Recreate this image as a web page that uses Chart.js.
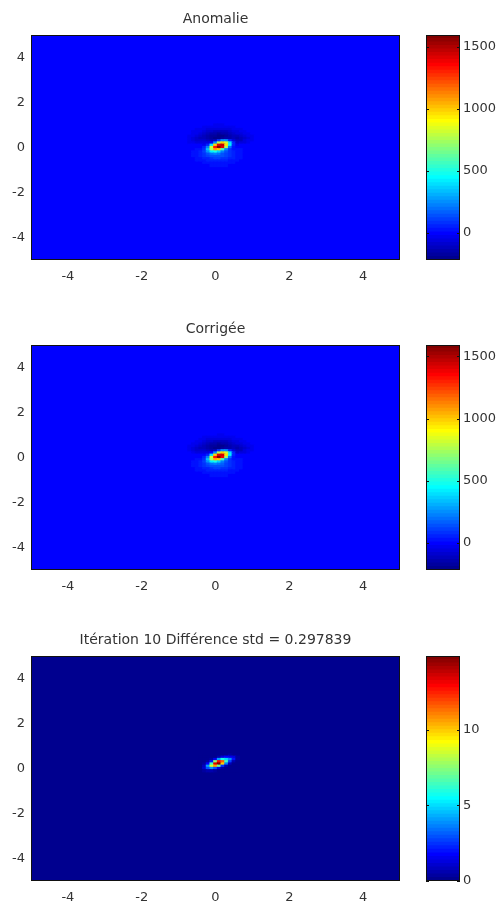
<!DOCTYPE html>
<html>
<head>
<meta charset="utf-8">
<script src="https://cdn.jsdelivr.net/npm/chart.js@4.4.1/dist/chart.umd.min.js"></script>
<style>
body { margin: 0; background: #fff; width: 503px; height: 907px; position: relative; overflow: hidden; }
.box { position: absolute; }
</style>
</head>
<body>
<div class="box" style="left:0;top:0;width:410px;height:295px"><canvas id="map1"></canvas></div>
<div class="box" style="left:426px;top:0;width:77px;height:295px"><canvas id="cb1"></canvas></div>
<div class="box" style="left:0;top:310px;width:410px;height:295px"><canvas id="map2"></canvas></div>
<div class="box" style="left:426px;top:310px;width:77px;height:295px"><canvas id="cb2"></canvas></div>
<div class="box" style="left:0;top:621px;width:410px;height:295px"><canvas id="map3"></canvas></div>
<div class="box" style="left:426px;top:621px;width:77px;height:295px"><canvas id="cb3"></canvas></div>
<script>
const titles = ['Anomalie', 'Corrigée', 'Itération 10 Différence std = 0.297839'];
const xTicks = [-4, -2, 0, 2, 4];
const yTicks = [4, 2, 0, -2, -4];
const cbTicks12 = [0, 500, 1000, 1500];
const cbTicks3 = [0, 5, 10];

// grid around the anomaly (step 0.1), the field is 0 everywhere else
const gridX = [-0.7, -0.6, -0.5, -0.4, -0.3, -0.2, -0.1, 0, 0.1, 0.2, 0.3, 0.4, 0.5, 0.6, 0.7, 0.8, 0.9, 1.0, 1.1];
const gridY = [1.1, 1.0, 0.9, 0.8, 0.7, 0.6, 0.5, 0.4, 0.3, 0.2, 0.1, 0, -0.1, -0.2, -0.3, -0.4, -0.5, -0.6, -0.7, -0.8];

const anomalie = [
  [-1, -2, -2, -4, -5, -6, -8, -9, -9, -9, -8, -7, -6, -4, -3, -2, -1, -1, 0],
  [-2, -3, -6, -8, -11, -15, -18, -20, -21, -21, -19, -16, -13, -9, -7, -4, -3, -1, -1],
  [-4, -7, -11, -16, -23, -29, -36, -40, -42, -41, -38, -32, -25, -19, -13, -8, -5, -3, -2],
  [-7, -13, -20, -30, -41, -53, -64, -72, -76, -74, -68, -58, -46, -34, -24, -15, -9, -5, -3],
  [-11, -20, -31, -46, -64, -82, -99, -112, -117, -115, -105, -90, -71, -53, -37, -24, -14, -8, -4],
  [-16, -27, -43, -64, -88, -114, -138, -155, -163, -159, -146, -124, -99, -73, -70, -48, -30, -16, -6],
  [-28, -48, -75, -100, -107, -138, -167, -187, -197, -193, -176, -150, -120, -125, -95, -65, -40, -22, -10],
  [-35, -55, -85, -110, -114, -147, -178, -205, -218, -183, -159, -139, -119, -140, -115, -85, -55, -30, -15],
  [-32, -55, -80, -100, -100, -130, -150, -120, 80, 260, 240, 60, -70, -120, -105, -75, -48, -26, -12],
  [-20, -35, -55, -75, -64, -70, -20, 250, 760, 980, 820, 380, 40, -80, -70, -50, -30, -15, -5],
  [-6, -9, -14, -19, -20, 40, 380, 980, 1420, 1460, 960, 420, 60, -20, -18, -12, -7, -5, -2],
  [-1, 0, 2, 5, 40, 230, 820, 1330, 1594, 1400, 720, 200, 30, 0, -2, -3, -2, -1, -1],
  [2, 6, 13, 28, 90, 330, 760, 1060, 980, 560, 220, 80, 31, 18, 9, 4, 1, 0, 0],
  [5, 10, 20, 42, 100, 240, 420, 480, 370, 230, 130, 80, 50, 29, 15, 8, 3, 1, 0],
  [5, 12, 23, 42, 82, 140, 200, 215, 190, 150, 115, 85, 56, 33, 18, 8, 4, 1, 0],
  [5, 10, 21, 38, 66, 97, 125, 138, 138, 125, 103, 76, 51, 30, 16, 8, 3, 1, 0],
  [3, 8, 15, 28, 44, 64, 83, 96, 99, 91, 76, 56, 37, 22, 12, 6, 2, 1, 0],
  [2, 5, 9, 16, 27, 38, 50, 57, 59, 55, 45, 34, 22, 13, 7, 3, 1, 1, 0],
  [1, 2, 4, 8, 13, 19, 24, 28, 29, 27, 22, 16, 11, 6, 3, 2, 1, 0, 0],
  [0, 1, 2, 3, 5, 7, 10, 11, 11, 11, 9, 6, 4, 3, 1, 1, 0, 0, 0]
];

const corrigee = [
  [-1, -2, -2, -4, -5, -6, -8, -9, -9, -9, -8, -7, -6, -4, -3, -2, -1, -1, 0],
  [-2, -3, -6, -8, -11, -15, -18, -20, -21, -21, -19, -16, -13, -9, -7, -4, -3, -1, -1],
  [-4, -7, -11, -16, -23, -29, -36, -40, -42, -41, -38, -32, -25, -19, -13, -8, -5, -3, -2],
  [-7, -13, -20, -30, -41, -53, -64, -72, -76, -74, -68, -58, -46, -34, -24, -15, -9, -5, -3],
  [-11, -20, -31, -46, -64, -82, -99, -112, -117, -115, -105, -90, -71, -53, -37, -24, -14, -8, -4],
  [-16, -27, -43, -64, -88, -114, -138, -155, -163, -159, -146, -124, -99, -73, -70, -48, -30, -16, -6],
  [-28, -48, -75, -100, -107, -138, -167, -187, -197, -193, -176, -150, -120, -125, -95, -65, -40, -22, -10],
  [-35, -55, -85, -110, -114, -147, -178, -205, -218, -183, -159, -139, -119, -140, -115, -85, -55, -30, -15],
  [-32, -55, -80, -100, -100, -130, -150, -120, 78, 255, 236, 59, -70, -120, -105, -75, -48, -26, -12],
  [-20, -35, -55, -75, -64, -70, -20, 248, 752, 970, 812, 376, 40, -80, -70, -50, -30, -15, -5],
  [-6, -9, -14, -19, -20, 40, 377, 974, 1408, 1448, 952, 416, 60, -20, -18, -12, -7, -5, -2],
  [-1, 0, 2, 5, 40, 229, 814, 1319, 1591, 1388, 714, 199, 30, 0, -2, -3, -2, -1, -1],
  [2, 6, 13, 28, 90, 328, 754, 1051, 972, 556, 219, 80, 31, 18, 9, 4, 1, 0, 0],
  [5, 10, 20, 42, 100, 239, 417, 476, 367, 229, 130, 80, 50, 29, 15, 8, 3, 1, 0],
  [5, 12, 23, 42, 82, 141, 201, 219, 192, 151, 115, 85, 56, 33, 18, 8, 4, 1, 0],
  [5, 10, 21, 38, 66, 97, 126, 140, 140, 126, 103, 76, 51, 30, 16, 8, 3, 1, 0],
  [3, 8, 15, 28, 44, 64, 83, 96, 99, 91, 76, 56, 37, 22, 12, 6, 2, 1, 0],
  [2, 5, 9, 16, 27, 38, 50, 57, 59, 55, 45, 34, 22, 13, 7, 3, 1, 1, 0],
  [1, 2, 4, 8, 13, 19, 24, 28, 29, 27, 22, 16, 11, 6, 3, 2, 1, 0, 0],
  [0, 1, 2, 3, 5, 7, 10, 11, 11, 11, 9, 6, 4, 3, 1, 1, 0, 0, 0]
];

const diffX = [-0.4, -0.3, -0.2, -0.1, 0, 0.1, 0.2, 0.3, 0.4, 0.5, 0.6];
const diffY = [0.6, 0.5, 0.4, 0.3, 0.2, 0.1, 0, -0.1];
const difference = [
  [0, 0, 0, 0, 0, 0, 0, 0.2, 0.3, 0.1, 0],
  [0, 0, 0, 0, 0.2, 0.6, 1.2, 1.8, 1.6, 1.2, 0.3],
  [0, 0, 0, 0.3, 1.5, 4.0, 6.0, 5.0, 3.8, 2.0, 0.4],
  [0, 0, 0.3, 2.0, 7.5, 12.8, 11.5, 6.5, 2.6, 0.6, 0],
  [0, 0.3, 1.8, 6.5, 13.5, 14.9, 10.0, 3.5, 0.8, 0.1, 0],
  [0.1, 0.8, 4.0, 8.5, 10.5, 7.0, 2.5, 0.6, 0.1, 0, 0],
  [0.2, 1.0, 2.8, 3.8, 3.0, 1.2, 0.3, 0, 0, 0, 0],
  [0, 0.3, 0.6, 0.6, 0.3, 0.1, 0, 0, 0, 0, 0]
];

const FAMILY = '"DejaVu Sans", Verdana, sans-serif';
const TICK_FONT = { family: FAMILY, size: 13 };
const TEXT = '#333';

// matlab jet, 64 rows
function jet64(k) {
  const row = k + 1;
  let r = 0, g = 0, b = 0;
  if (row >= 25 && row <= 40) r = (row - 24) / 16;
  else if (row > 40 && row <= 56) r = 1;
  else if (row > 56) r = (72 - row) / 16;
  if (row >= 9 && row <= 24) g = (row - 8) / 16;
  else if (row > 24 && row <= 40) g = 1;
  else if (row > 40 && row <= 55) g = (56 - row) / 16;
  if (row <= 8) b = (row + 8) / 16;
  else if (row <= 24) b = 1;
  else if (row <= 39) b = (40 - row) / 16;
  return 'rgb(' + Math.round(r * 255) + ',' + Math.round(g * 255) + ',' + Math.round(b * 255) + ')';
}

function colorFor(v, cmin, cmax) {
  let k = Math.floor((v - cmin) / (cmax - cmin) * 64);
  k = Math.max(0, Math.min(63, k));
  return jet64(k);
}

// fills the plot with the colour of the zero level before the cells
const fond = {
  id: 'fond',
  beforeDatasetsDraw(chart, args, opts) {
    if (!opts.color) return;
    const a = chart.chartArea, ctx = chart.ctx;
    ctx.save();
    ctx.fillStyle = opts.color;
    ctx.fillRect(a.left, a.top, a.width, a.height);
    ctx.restore();
  }
};

// black box around the plot, plus inward tick marks for the colorbars
const cadre = {
  id: 'cadre',
  afterDraw(chart, args, opts) {
    const a = chart.chartArea, ctx = chart.ctx;
    ctx.save();
    ctx.strokeStyle = '#111';
    ctx.lineWidth = 1;
    ctx.strokeRect(a.left + 0.5, a.top + 0.5, a.width - 1, a.height - 1);
    if (opts.ticks) {
      const y = chart.scales.y;
      ctx.beginPath();
      opts.ticks.forEach(t => {
        const py = Math.round(y.getPixelForValue(t)) + 0.5;
        ctx.moveTo(a.left, py); ctx.lineTo(a.left + 3, py);
        ctx.moveTo(a.right - 3, py); ctx.lineTo(a.right, py);
      });
      ctx.stroke();
    }
    ctx.restore();
  }
};

function drawMap(id, title, xs, ys, values) {
  const all = values.flat();
  const cmin = Math.min(0, ...all);
  const cmax = Math.max(...all);
  const half = Math.abs(ys[0] - ys[1]) / 2;
  const cells = [];
  ys.forEach((y, j) => xs.forEach((x, i) => {
    cells.push({ x: x, y: [y - half, y + half], v: values[j][i] });
  }));

  new Chart(document.getElementById(id), {
    type: 'bar',
    data: {
      datasets: [{
        data: cells,
        backgroundColor: c => c.raw ? colorFor(c.raw.v, cmin, cmax) : '#00f',
        borderWidth: 0,
        barPercentage: 1,
        categoryPercentage: 1,
        inflateAmount: 0.5
      }]
    },
    options: {
      animation: false,
      responsive: true,
      maintainAspectRatio: false,
      layout: { padding: { left: 0, right: 10, top: 0, bottom: 0 } },
      plugins: {
        legend: { display: false },
        tooltip: { enabled: false },
        title: {
          display: true, text: title, color: TEXT, fullSize: false,
          font: { family: FAMILY, size: 14, weight: 'normal', lineHeight: '16px' },
          padding: { top: 11, bottom: 8 }
        },
        fond: { color: colorFor(0, cmin, cmax) },
        cadre: {}
      },
      scales: {
        x: {
          type: 'linear', min: -5, max: 5, offset: false,
          grid: { display: false, drawTicks: false },
          border: { display: false },
          ticks: { color: TEXT, font: TICK_FONT, padding: 9, maxRotation: 0, callback: v => String(v) },
          afterBuildTicks: s => { s.ticks = xTicks.map(v => ({ value: v })); },
          afterFit: s => { s.height = 35; }
        },
        y: {
          type: 'linear', min: -5, max: 5,
          grid: { display: false, drawTicks: false },
          border: { display: false },
          ticks: { color: TEXT, font: TICK_FONT, padding: 6, callback: v => String(v) },
          afterBuildTicks: s => { s.ticks = yTicks.map(v => ({ value: v })); },
          afterFit: s => { s.width = 31; }
        }
      }
    },
    plugins: [fond, cadre]
  });
  return [cmin, cmax];
}

function drawColorbar(id, range, ticks) {
  const [cmin, cmax] = range;
  const step = (cmax - cmin) / 64;
  const bands = [];
  for (let k = 0; k < 64; k++) {
    bands.push({
      data: [[cmin + k * step, cmin + (k + 1) * step]],
      backgroundColor: jet64(k),
      borderWidth: 0,
      barPercentage: 1,
      categoryPercentage: 1,
      inflateAmount: 0.5,
      grouped: false
    });
  }
  new Chart(document.getElementById(id), {
    type: 'bar',
    data: { labels: [''], datasets: bands },
    options: {
      animation: false,
      responsive: true,
      maintainAspectRatio: false,
      layout: { padding: { left: 0, right: 0, top: 35, bottom: 35 } },
      plugins: {
        legend: { display: false },
        tooltip: { enabled: false },
        cadre: { ticks: ticks }
      },
      scales: {
        x: { display: false },
        y: {
          position: 'right', min: cmin, max: cmax,
          grid: { display: false, drawTicks: false },
          border: { display: false },
          ticks: { color: TEXT, font: TICK_FONT, padding: 3, callback: v => String(v) },
          afterBuildTicks: s => { s.ticks = ticks.map(v => ({ value: v })); },
          afterFit: s => { s.width = 43; }
        }
      }
    },
    plugins: [cadre]
  });
}

drawColorbar('cb1', drawMap('map1', titles[0], gridX, gridY, anomalie), cbTicks12);
drawColorbar('cb2', drawMap('map2', titles[1], gridX, gridY, corrigee), cbTicks12);
drawColorbar('cb3', drawMap('map3', titles[2], diffX, diffY, difference), cbTicks3);
</script>
</body>
</html>
